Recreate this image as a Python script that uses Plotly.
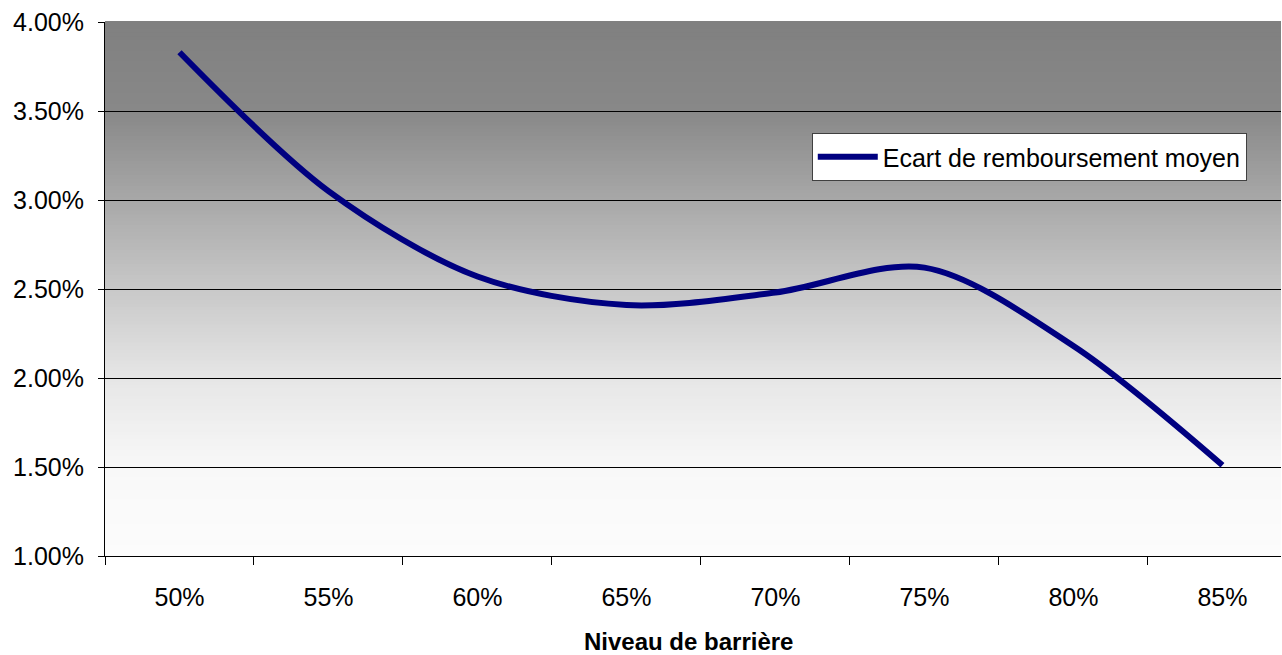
import plotly.graph_objects as go

categories = ["50%", "55%", "60%", "65%", "70%", "75%", "80%", "85%"]
ecart = [0.0383, 0.0305, 0.0257, 0.0241, 0.0248, 0.0262, 0.0218, 0.0151]
series_name = "Ecart de remboursement moyen"
x_title = "Niveau de barrière"

fig = go.Figure()
fig.add_trace(go.Scatter(
    x=categories, y=ecart, mode="lines", name=series_name,
    line=dict(color="#000080", width=6, shape="spline", smoothing=0.9),
))

# vertical gradient background (gray top -> near white bottom)
stops_t = [0.0, 1 / 6, 2 / 6, 3 / 6, 4 / 6, 5 / 6, 1.0]
stops_v = [252, 248, 230, 200, 168, 136, 128]


def grad(t):
    for k in range(len(stops_t) - 1):
        if stops_t[k] <= t <= stops_t[k + 1]:
            f = (t - stops_t[k]) / (stops_t[k + 1] - stops_t[k])
            return stops_v[k] + f * (stops_v[k + 1] - stops_v[k])
    return stops_v[-1]


shapes = []
n = 150
for i in range(n):
    t = (i + 0.5) / n
    v = int(round(grad(t)))
    shapes.append(dict(type="rect", xref="paper", yref="paper",
                       x0=0, x1=1, y0=i / n, y1=(i + 1) / n + 0.002,
                       fillcolor=f"rgb({v},{v},{v})", line=dict(width=0),
                       layer="below"))

fig.update_layout(
    width=1282, height=655,
    margin=dict(l=105, r=1, t=22, b=99, autoexpand=False),
    paper_bgcolor="white", plot_bgcolor="white",
    font=dict(family="Liberation Sans, Arial, sans-serif", size=25, color="black"),
    shapes=shapes,
    showlegend=True,
    legend=dict(x=0.601, y=0.792, xanchor="left", yanchor="top",
                bgcolor="white", bordercolor="#404040", borderwidth=1,
                font=dict(size=25), itemwidth=60),
    annotations=[dict(text="<b>" + x_title + "</b>", xref="paper", yref="paper",
                      x=0.4965, y=-0.161, xanchor="center", yanchor="middle",
                      showarrow=False, font=dict(size=24))],
    xaxis=dict(type="category", range=[-0.5, 7.393], tickson="boundaries",
               ticks="outside", ticklen=8, tickcolor="black", showline=True,
               linecolor="black", linewidth=1, showgrid=False,
               tickfont=dict(size=25), ticklabelstandoff=19, automargin=False),
    yaxis=dict(range=[0.01, 0.04], dtick=0.005, tickformat=".2%",
               ticks="outside", ticklen=6, tickcolor="black", showline=True,
               linecolor="black", linewidth=1, showgrid=True, gridcolor="black",
               gridwidth=1, zeroline=False, tickfont=dict(size=25),
               ticklabelstandoff=9, automargin=False),
)

fig.write_html("out.html", config={"displayModeBar": False},
               post_script="document.body.style.margin='0';document.body.style.overflow='hidden';")
